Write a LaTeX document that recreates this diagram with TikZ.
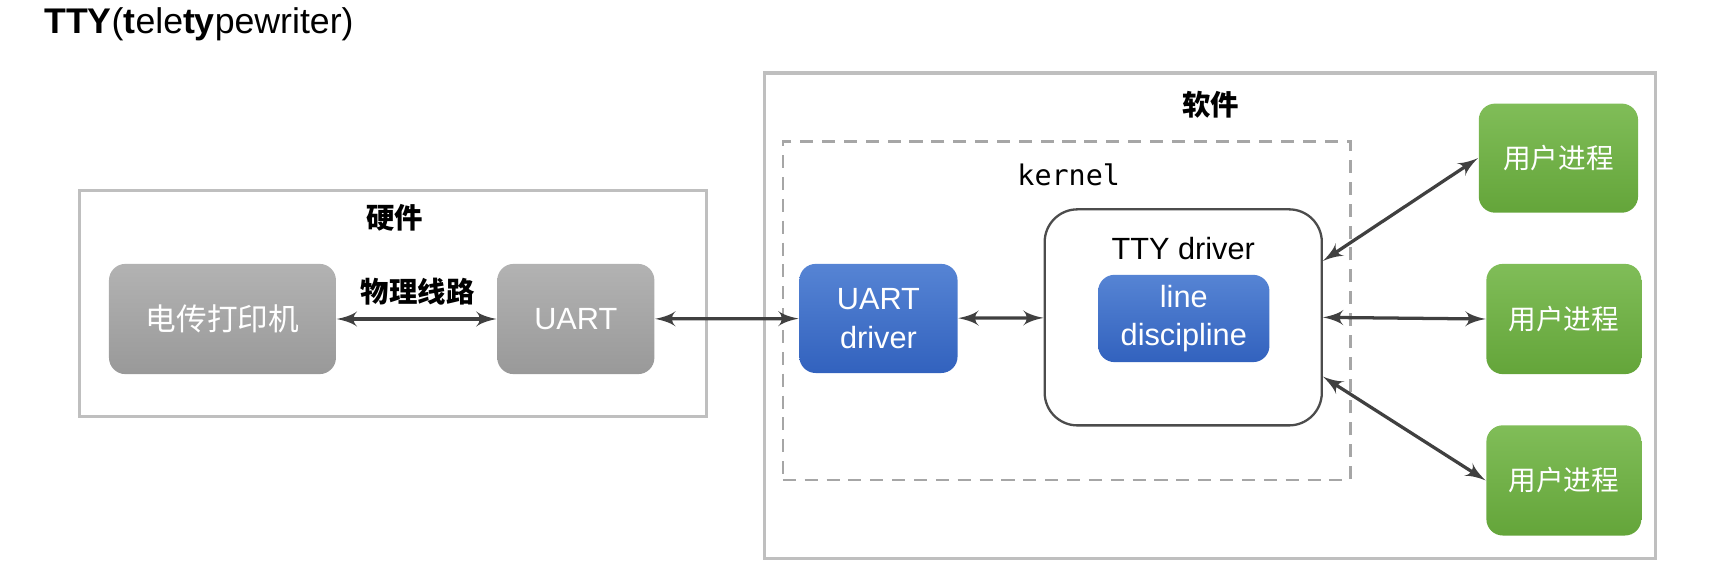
\documentclass[tikz,border=0pt]{standalone}
\usepackage{fontspec}
\usepackage{tikz}
\setmainfont{Liberation Sans}
\newfontfamily\cjk{Noto Sans CJK SC}
\newfontfamily\monofont{DejaVu Sans Mono}
\usetikzlibrary{arrows}
\usetikzlibrary{positioning}
\tikzset{frame/.style = {draw=black!25, line width=0.85pt}}
\tikzset{kbox/.style = {draw=black!35, line width=0.7pt, dash pattern=on 3.4pt off 2.3pt}}
\tikzset{blk/.style = {rounded corners=0.15cm, text=white, inner sep=0, align=center,
                       font=\fontsize{8}{10}\selectfont}}
\tikzset{hw/.style = {blk, top color=black!30, bottom color=black!40}}
\tikzset{drv/.style = {blk, top color={rgb,255:red,86;green,132;blue,212},
                       bottom color={rgb,255:red,50;green,98;blue,190}}}
\tikzset{proc/.style = {blk, top color={rgb,255:red,128;green,189;blue,88},
                        bottom color={rgb,255:red,100;green,165;blue,58}}}
\tikzset{lbl/.style = {font=\cjk\bfseries\fontsize{7.4}{9}\selectfont}}
\tikzset{link/.style = {latex'-latex', line width=0.85pt, draw=black!75}}

\begin{document}
\begin{tikzpicture}[x=0.01cm, y=-0.01cm]
    \useasboundingbox (0, 0) rectangle (1568, 523.6);

    \node [anchor=west, font=\fontsize{9.3}{11}\selectfont, inner sep=0] (title) at (40, 22)
      {\textbf{TTY}(\textbf{t}ele\textbf{ty}pewriter)};

    % hardware
    \node [frame, minimum width=5.75cm, minimum height=2.07cm] (hwf) at (360.5, 278.5) {};
    \node [lbl] (hwl) at (362, 200) {硬件};
    \node [hw, minimum width=2.08cm, minimum height=1.01cm, font=\cjk\fontsize{8}{10}\selectfont]
      (tele) at (204, 292.5) {电传打印机};
    \node [hw, minimum width=1.44cm, minimum height=1.01cm] (uart) at (528, 292.5) {UART};
    \node [lbl] (wire) at (383, 267) {物理线路};

    % software
    \node [frame, minimum width=8.17cm, minimum height=4.45cm] (swf) at (1109.5, 289.5) {};
    \node [lbl] (swl) at (1110, 96) {软件};
    \node [kbox, minimum width=5.2cm, minimum height=3.1cm] (kern) at (978, 285) {};
    \node [font=\monofont\fontsize{7.4}{9}\selectfont] (kl) at (980, 160) {kernel};

    \node [drv, minimum width=1.45cm, minimum height=1.0cm] (udrv) at (805.5, 292) {UART\\driver};
    \node [draw=black!70, line width=0.6pt, rounded corners=0.3cm, fill=white,
           minimum width=2.54cm, minimum height=1.98cm] (tty) at (1085, 291) {};
    \node [font=\fontsize{8}{10}\selectfont] (ttyl) at (1085, 228) {TTY driver};
    \node [drv, minimum width=1.57cm, minimum height=0.8cm] (ld) at (1085.5, 292) {line\\discipline};

    \node [proc, minimum width=1.46cm, minimum height=1.0cm, font=\cjk\fontsize{7.2}{9}\selectfont]
      (p1) at (1429, 145) {用户进程};
    \node [proc, minimum width=1.42cm, minimum height=1.01cm, font=\cjk\fontsize{7.2}{9}\selectfont]
      (p2) at (1434, 292.5) {用户进程};
    \node [proc, minimum width=1.42cm, minimum height=1.01cm, font=\cjk\fontsize{7.2}{9}\selectfont]
      (p3) at (1434, 440.5) {用户进程};

    \draw [link] (tele) -- (uart);
    \draw [link] (uart) -- (udrv);
    \draw [link] (udrv) -- (tty);
    \draw [link] (tty.22.6) -- (p1.west);
    \draw [link] (tty.east) -- (p2.west);
    \draw [link] (tty.-23) -- (p3.west);
  \end{tikzpicture}
\end{document}
